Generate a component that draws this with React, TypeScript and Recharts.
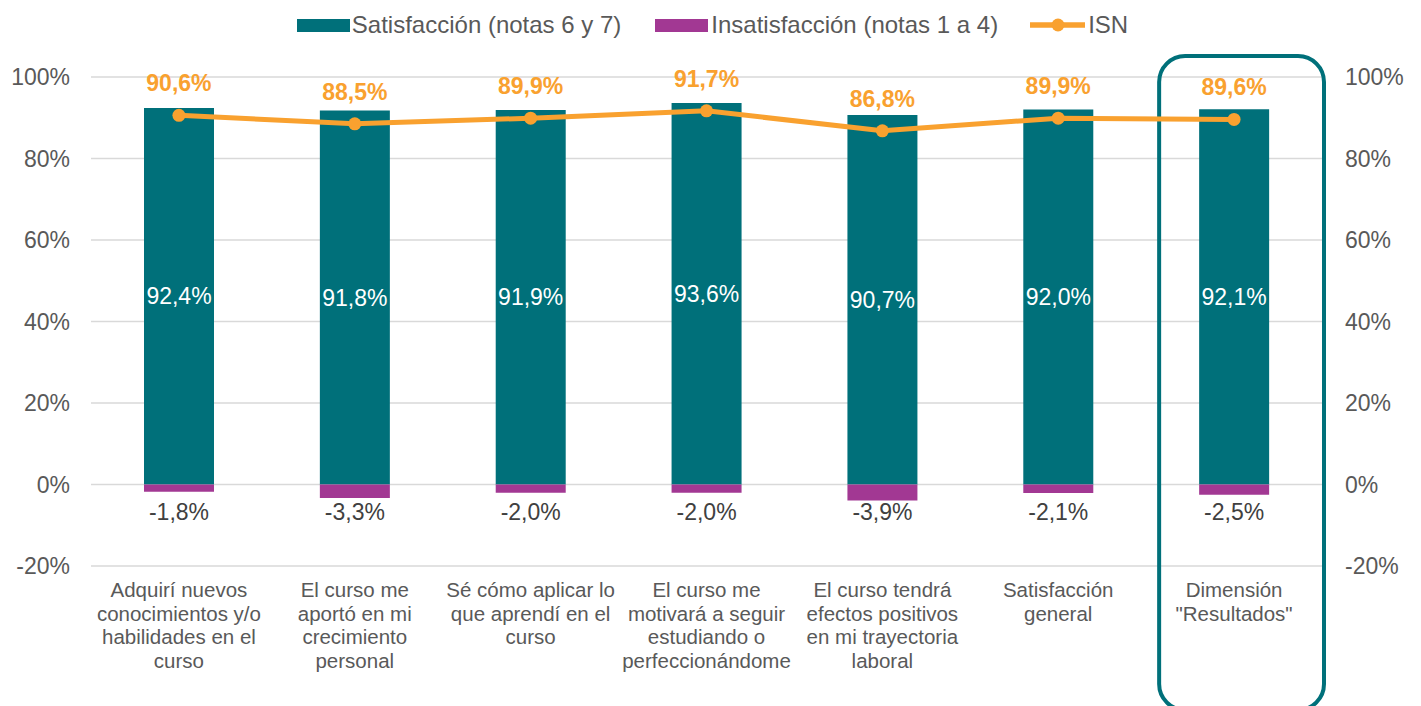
import React from 'react';
import {
  ComposedChart,
  Bar,
  Line,
  XAxis,
  YAxis,
  CartesianGrid,
  LabelList,
  Legend,
  ReferenceArea,
} from 'recharts';

const categories = [
  'Adquirí nuevos\nconocimientos y/o\nhabilidades en el\ncurso',
  'El curso me\naportó en mi\ncrecimiento\npersonal',
  'Sé cómo aplicar lo\nque aprendí en el\ncurso',
  'El curso me\nmotivará a seguir\nestudiando o\nperfeccionándome',
  'El curso tendrá\nefectos positivos\nen mi trayectoria\nlaboral',
  'Satisfacción\ngeneral',
  'Dimensión\n"Resultados"',
];
const satisfaccion = [92.4, 91.8, 91.9, 93.6, 90.7, 92.0, 92.1];
const insatisfaccion = [-1.8, -3.3, -2.0, -2.0, -3.9, -2.1, -2.5];
const isn = [90.6, 88.5, 89.9, 91.7, 86.8, 89.9, 89.6];
const yTicks = [-20, 0, 20, 40, 60, 80, 100];
const seriesNames = ['Satisfacción (notas 6 y 7)', 'Insatisfacción (notas 1 a 4)', 'ISN'];
const highlighted = categories[6];

const TEAL = '#00707A';
const PURPLE = '#A23893';
const ORANGE = '#F9A12F';
const GREY = '#595959';
const FONT = '"Liberation Sans", Arial, sans-serif';

const data = categories.map((c, i) => ({
  cat: c,
  sat: satisfaccion[i],
  ins: insatisfaccion[i],
  isn: isn[i],
}));

const fmt = (v: number) => v.toFixed(1).replace('.', ',') + '%';

const CatTick = (props: any) => {
  const { x, y, payload } = props;
  const lines = String(payload.value).split('\n');
  return (
    <text x={x} y={y} textAnchor="middle" fill={GREY} fontSize={20.5} fontFamily={FONT}>
      {lines.map((l, i) => (
        <tspan key={i} x={x} dy={i === 0 ? 23 : 23.7}>
          {l}
        </tspan>
      ))}
    </text>
  );
};

const NegLabel = (p: any) => {
  const { x, y, width, height, value } = p;
  const zero = Math.min(y, y + height);
  return (
    <text
      x={x + width / 2}
      y={zero + 27}
      textAnchor="middle"
      dominantBaseline="central"
      fill="#404040"
      fontSize={23}
      fontFamily={FONT}
    >
      {fmt(value)}
    </text>
  );
};

const IsnLabel = (p: any) => {
  const { x, y, value } = p;
  return (
    <text
      x={x}
      y={y - 32}
      textAnchor="middle"
      dominantBaseline="central"
      fill={ORANGE}
      fontSize={23}
      fontWeight="bold"
      fontFamily={FONT}
    >
      {fmt(value)}
    </text>
  );
};

const LegendContent = () => (
  <div
    style={{
      display: 'flex',
      justifyContent: 'center',
      alignItems: 'center',
      fontFamily: FONT,
      fontSize: 24,
      color: GREY,
      paddingLeft: 4,
    }}
  >
    <div style={{ display: 'flex', alignItems: 'center', marginRight: 34 }}>
      <div style={{ width: 53, height: 13, background: TEAL, marginRight: 2 }} />
      <span>{seriesNames[0]}</span>
    </div>
    <div style={{ display: 'flex', alignItems: 'center', marginRight: 32 }}>
      <div style={{ width: 53, height: 13, background: PURPLE, marginRight: 3 }} />
      <span>{seriesNames[1]}</span>
    </div>
    <div style={{ display: 'flex', alignItems: 'center' }}>
      <svg width={55} height={16} style={{ marginRight: 3 }}>
        <line x1={0} y1={8} x2={55} y2={8} stroke={ORANGE} strokeWidth={5.5} strokeLinecap="round" />
        <circle cx={28} cy={8} r={6.5} fill={ORANGE} />
      </svg>
      <span>{seriesNames[2]}</span>
    </div>
  </div>
);

export default function App() {
  return (
    <div style={{ position: 'absolute', left: 0, top: 0 }}>
      <ComposedChart
        width={1421}
        height={706}
        data={data}
        stackOffset="sign"
        margin={{ top: 77, right: 0, bottom: 0, left: 0 }}
      >
        <CartesianGrid vertical={false} stroke="#D9D9D9" strokeWidth={1.5} yAxisId="left" />
        <XAxis
          dataKey="cat"
          interval={0}
          height={140}
          tickLine={false}
          axisLine={false}
          tick={<CatTick />}
        />
        <YAxis
          yAxisId="left"
          domain={[-20, 100]}
          ticks={yTicks}
          width={91}
          tickLine={false}
          axisLine={false}
          tickMargin={15}
          tickFormatter={(v: number) => `${v}%`}
          tick={{ fill: GREY, fontSize: 23, fontFamily: FONT }}
        />
        <YAxis
          yAxisId="right"
          orientation="right"
          domain={[-20, 100]}
          ticks={yTicks}
          width={99}
          tickLine={false}
          axisLine={false}
          tickMargin={17}
          tickFormatter={(v: number) => `${v}%`}
          tick={{ fill: GREY, fontSize: 23, fontFamily: FONT, textAnchor: 'start' }}
        />
        <Legend
          layout="vertical"
          verticalAlign="middle"
          align="center"
          wrapperStyle={{ top: 11, left: 0, width: 1421 }}
          content={<LegendContent />}
        />
        <Bar
          yAxisId="left"
          dataKey="sat"
          name={seriesNames[0]}
          stackId="a"
          fill={TEAL}
          barSize={70}
          isAnimationActive={false}
        >
          <LabelList
            dataKey="sat"
            position="center"
            fill="#FFFFFF"
            fontSize={23}
            fontFamily={FONT}
            formatter={(v: any) => fmt(Number(v))}
          />
        </Bar>
        <Bar
          yAxisId="left"
          dataKey="ins"
          name={seriesNames[1]}
          stackId="a"
          fill={PURPLE}
          barSize={70}
          isAnimationActive={false}
        >
          <LabelList dataKey="ins" content={<NegLabel />} />
        </Bar>
        <Line
          yAxisId="right"
          dataKey="isn"
          name={seriesNames[2]}
          stroke={ORANGE}
          strokeWidth={5}
          dot={{ r: 6.5, fill: ORANGE, stroke: ORANGE, strokeWidth: 0 }}
          activeDot={false}
          isAnimationActive={false}
        >
          <LabelList dataKey="isn" content={<IsnLabel />} />
        </Line>
        <ReferenceArea
          yAxisId="left"
          x1={highlighted}
          x2={highlighted}
          ifOverflow="visible"
          shape={(p: any) => (
            <rect
              x={p.x + 13}
              y={p.y - 21}
              width={p.width - 11}
              height={p.height + 165}
              rx={26}
              ry={26}
              fill="none"
              stroke={TEAL}
              strokeWidth={4}
            />
          )}
        />
      </ComposedChart>
    </div>
  );
}
